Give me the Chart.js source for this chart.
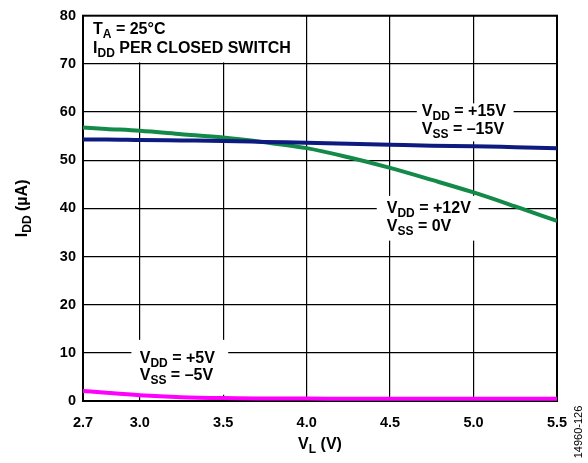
<!DOCTYPE html>
<html>
<head>
<meta charset="utf-8">
<script src="https://cdn.jsdelivr.net/npm/chart.js@4.4.1/dist/chart.umd.min.js"></script>
<style>
  html, body { margin: 0; padding: 0; background: #fff; }
  #wrap { width: 588px; height: 463px; position: relative; }
</style>
</head>
<body>
<div id="wrap"><canvas id="myChart"></canvas></div>
<script>
// V_L (V) sample points; the axis starts just left of 3.0 and is labelled 2.7
var vL = [2.66, 2.8, 3.0, 3.25, 3.5, 3.75, 4.0, 4.25, 4.5, 4.75, 5.0, 5.25, 5.5];
// I_DD (uA) per supply
var idd15 = [54.3, 54.3, 54.2, 54.1, 54.0, 53.8, 53.6, 53.4, 53.2, 53.0, 52.9, 52.7, 52.5];
var idd12 = [56.8, 56.5, 56.1, 55.4, 54.7, 53.7, 52.5, 50.6, 48.4, 45.9, 43.3, 40.4, 37.4];
var idd5 = [2.1, 1.7, 1.2, 0.8, 0.6, 0.5, 0.5, 0.45, 0.45, 0.45, 0.45, 0.45, 0.45];
var xTicks = [2.66, 3.0, 3.5, 4.0, 4.5, 5.0, 5.5];
var xTickLabels = ['2.7', '3.0', '3.5', '4.0', '4.5', '5.0', '5.5'];

var FONT = 'Liberation Sans, Arial, sans-serif';

function pts(ys) {
  return vL.map(function (x, i) { return { x: x, y: ys[i] }; });
}

// text with subscripts: runs like [['V'], ['DD', 1], [' = +15V']]
function drawRuns(ctx, runs, x, y, size, align) {
  var subSize = Math.round(size * 0.75);
  var w = 0;
  runs.forEach(function (r) {
    ctx.font = 'bold ' + (r[1] ? subSize : size) + 'px ' + FONT;
    w += ctx.measureText(r[0]).width;
  });
  var cx = align === 'center' ? x - w / 2 : x;
  runs.forEach(function (r) {
    ctx.font = 'bold ' + (r[1] ? subSize : size) + 'px ' + FONT;
    ctx.fillText(r[0], cx, r[1] ? y + 4 : y);
    cx += ctx.measureText(r[0]).width;
  });
}

// label boxes (x/y in data units)
var notes = [
  { box: [2.66, 3.96, 70.3, 80], x: 2.72, y: 76.1, lh: 19,
    lines: [[['T'], ['A', 1], [' = 25°C']], [['I'], ['DD', 1], [' PER CLOSED SWITCH']]] },
  { box: [4.66, 5.24, 53.9, 61.8], x: 4.69, y: 59.1, lh: 17.7,
    lines: [[['V'], ['DD', 1], [' = +15V']], [['V'], ['SS', 1], [' = \u201315V']]] },
  { box: [4.42, 5.03, 33.3, 42.6], x: 4.48, y: 39.1, lh: 18.3,
    lines: [[['V'], ['DD', 1], [' = +12V']], [['V'], ['SS', 1], [' = 0V']]] },
  { box: [2.95, 3.53, 1.3, 12.7], x: 3.0, y: 7.9, lh: 16.7,
    lines: [[['V'], ['DD', 1], [' = +5V']], [['V'], ['SS', 1], [' = \u20135V']]] }
];

var decor = {
  id: 'decor',
  beforeDatasetsDraw: function (chart) {
    var ctx = chart.ctx, xs = chart.scales.x, ys = chart.scales.y, a = chart.chartArea;
    ctx.save();
    notes.forEach(function (n) {
      var l = xs.getPixelForValue(n.box[0]), r = xs.getPixelForValue(n.box[1]);
      var t = ys.getPixelForValue(n.box[3]), b = ys.getPixelForValue(n.box[2]);
      ctx.fillStyle = '#fff';
      ctx.fillRect(l, t, r - l, b - t);
    });
    ctx.fillStyle = '#000';
    ctx.textBaseline = 'alphabetic';
    notes.forEach(function (n) {
      var px = xs.getPixelForValue(n.x), py = ys.getPixelForValue(n.y);
      n.lines.forEach(function (ln, i) {
        drawRuns(ctx, ln, px, py + i * n.lh, 16, 'left');
      });
    });
    ctx.strokeStyle = '#000';
    ctx.lineWidth = 2;
    ctx.strokeRect(a.left, a.top, a.right - a.left, a.bottom - a.top);
    ctx.restore();
  },
  afterDraw: function (chart) {
    var ctx = chart.ctx, a = chart.chartArea;
    ctx.save();
    ctx.fillStyle = '#000';
    ctx.textBaseline = 'alphabetic';
    // x title
    drawRuns(ctx, [['V'], ['L', 1], [' (V)']], (a.left + a.right) / 2, 449, 16, 'center');
    // y title
    ctx.save();
    ctx.translate(27, (a.top + a.bottom) / 2);
    ctx.rotate(-Math.PI / 2);
    drawRuns(ctx, [['I'], ['DD', 1], [' (\u00b5A)']], 0, 0, 16, 'center');
    ctx.restore();
    // figure code
    ctx.translate(582, 432);
    ctx.rotate(-Math.PI / 2);
    ctx.font = '11px ' + FONT;
    ctx.textAlign = 'center';
    ctx.fillText('14960-126', 0, 0);
    ctx.restore();
  }
};

var myChart = new Chart(document.getElementById('myChart'), {
  type: 'line',
  data: {
    datasets: [
      { label: 'VDD = +15V, VSS = -15V', data: pts(idd15), borderColor: '#0d1a80', borderWidth: 4 },
      { label: 'VDD = +12V, VSS = 0V', data: pts(idd12), borderColor: '#138a48', borderWidth: 4 },
      { label: 'VDD = +5V, VSS = -5V', data: pts(idd5), borderColor: '#ff00ff', borderWidth: 4 }
    ]
  },
  options: {
    responsive: true,
    maintainAspectRatio: false,
    animation: false,
    layout: { padding: { left: 0, top: 13, right: 31, bottom: 0 } },
    elements: { point: { radius: 0 }, line: { cubicInterpolationMode: 'monotone' } },
    plugins: { legend: { display: false }, tooltip: { enabled: false } },
    scales: {
      x: {
        type: 'linear',
        min: 2.66,
        max: 5.5,
        afterFit: function (s) { s.height = 62; },
        afterBuildTicks: function (s) { s.ticks = xTicks.map(function (v) { return { value: v }; }); },
        grid: { color: '#000', lineWidth: 1.2, drawTicks: false },
        border: { display: false },
        ticks: {
          color: '#000',
          padding: 13,
          maxRotation: 0,
          autoSkip: false,
          font: { family: FONT, size: 14.5, weight: 'bold' },
          callback: function (v) { return xTickLabels[xTicks.indexOf(v)]; }
        }
      },
      y: {
        min: 0,
        max: 80,
        afterFit: function (s) { s.width = 83; },
        grid: { color: '#000', lineWidth: 1.2, drawTicks: false },
        border: { display: false },
        ticks: {
          stepSize: 10,
          color: '#000',
          padding: 7,
          font: { family: FONT, size: 14.5, weight: 'bold' }
        }
      }
    }
  },
  plugins: [decor]
});
</script>
</body>
</html>
